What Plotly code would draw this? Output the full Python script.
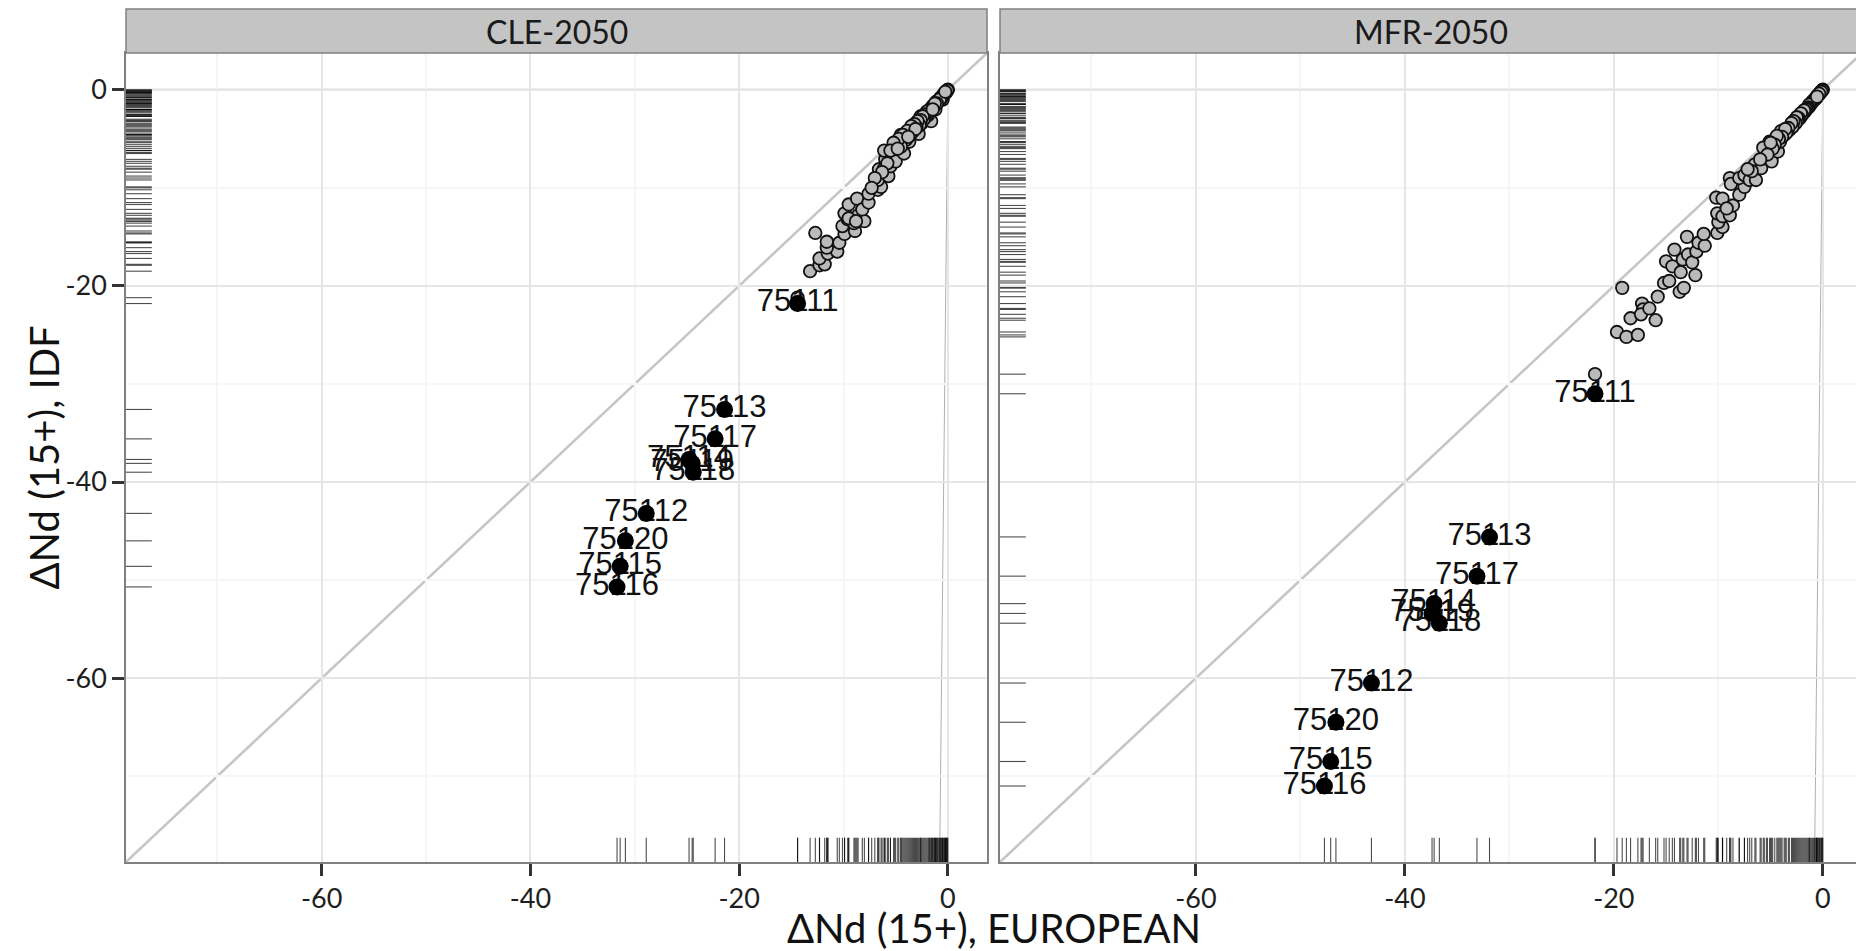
import plotly.graph_objects as go

W, H = 1864, 951
AX_MIN, AX_MAX = -78.75, 3.75

panels = ["CLE-2050", "MFR-2050"]
x_ticks = [-60, -40, -20, 0]
y_ticks = [0, -20, -40, -60]
minor_ticks = [-70, -50, -30, -10]

# ---- CLE-2050 : grey points (EUROPEAN, IDF)
cle_gx = [-13.2, -12.3, -11.8, -12.3, -12.7, -11.5, -11.5, -10.6, -10.4, -9.9, -10.1, -9.6, -9.9, -9.5,
          -8.9, -9.0, -8.6, -8.7, -8.0, -8.2, -7.6, -7.6, -6.7, -6.4, -6.7, -6.6, -6.1, -5.7, -6.0, -5.5,
          -5.1, -5.0, -4.2, -4.4, -3.7, -4.1, -2.8, -3.3, -2.5, -1.8, -1.6, -1.2, -0.5, -0.2, 0.0, -6.1,
          -4.5, -2.6, -14.4, -11.6, -11.6, -9.5, -8.8,
          -0.1, -0.2, -0.3, -0.4, -0.5, -0.6, -0.7, -0.8, -0.9, -1.0, -1.1, -1.2, -1.3, -1.4, -1.5, -1.6,
          -1.7, -1.8, -1.9, -2.0, -2.1, -2.2, -2.3, -2.4, -2.6, -2.7, -2.9, -3.0, -3.2, -3.4, -3.5, -3.6,
          -3.9, -4.0, -4.3, -4.5, -4.7, -5.2, -5.5, -0.15, -0.35, -0.55, -0.75, -1.05, -1.25, -1.45, -0.05,
          -0.25, -3.1, -3.8, -4.8, -5.8, -6.3, -7.0, -7.3]
cle_gy = [-18.5, -17.9, -17.8, -17.2, -14.6, -16.7, -15.6, -16.5, -15.6, -14.7, -13.9, -13.2, -12.6, -11.7,
          -14.4, -13.6, -12.8, -11.1, -13.4, -12.2, -11.5, -10.6, -10.2, -9.9, -9.2, -8.1, -8.0, -8.8, -7.1, -7.8,
          -6.4, -7.3, -6.5, -5.6, -5.3, -4.9, -4.5, -4.1, -3.4, -2.5, -3.2, -2.0, -1.0, -0.3, 0.0, -6.2,
          -4.6, -2.7, -21.2, -16.1, -15.5, -13.1, -13.4,
          -0.1, -0.3, -0.3, -0.5, -0.6, -0.8, -0.8, -1.0, -1.1, -1.3, -1.2, -1.5, -1.6, -1.8, -1.7, -2.1,
          -2.0, -2.3, -2.6, -2.2, -2.7, -2.5, -3.0, -2.7, -3.1, -3.6, -3.2, -3.8, -3.5, -4.3, -3.7, -4.6,
          -4.2, -5.1, -4.6, -5.8, -5.0, -5.4, -6.2, -0.2, -0.4, -0.7, -0.95, -1.4, -1.4, -2.0, -0.05,
          -0.2, -4.0, -4.8, -6.0, -7.5, -8.4, -9.0, -10.0]

# ---- CLE-2050 : Paris arrondissements
cle_lab = ["75111", "75113", "75117", "75114", "75119", "75118", "75112", "75120", "75115", "75116"]
cle_bx = [-14.4, -21.4, -22.3, -24.8, -24.5, -24.4, -28.9, -30.9, -31.4, -31.7]
cle_by = [-21.8, -32.6, -35.6, -37.7, -38.1, -39.0, -43.2, -46.0, -48.6, -50.7]

# ---- MFR-2050 : grey points
mfr_gx = [-21.8, -19.7, -18.8, -17.7, -19.2, -18.4, -17.3, -17.2, -17.4, -16.6, -16.0, -15.8, -15.2, -14.7,
          -13.7, -13.3, -12.2, -15.0, -14.2, -14.4, -13.6, -13.4, -12.9, -13.0, -12.5, -12.1, -11.9, -11.3,
          -11.4, -10.1, -9.6, -10.0, -10.1, -9.6, -8.9, -10.2, -9.6, -8.6, -9.2, -8.9, -8.8, -8.0, -7.5, -8.0,
          -7.5, -7.0, -6.4, -6.5, -5.9, -5.6, -4.9, -5.4, -4.3, -5.1, -4.1, -3.7, -4.0, -3.2, -2.7, -2.2,
          -1.9, -1.3, -0.6, 0.0, -5.7,
          -0.1, -0.2, -0.3, -0.4, -0.5, -0.6, -0.7, -0.8, -0.9, -1.0, -1.1, -1.2, -1.3, -1.4, -1.5, -1.6,
          -1.7, -1.8, -2.0, -2.1, -2.3, -2.4, -2.5, -2.6, -2.8, -2.9, -3.0, -3.3, -3.5, -3.6, -3.9, -4.2,
          -4.4, -4.6, -4.8, -5.0, -5.3, -6.0, -0.05, -0.15, -0.35, -0.55, -6.8, -7.2]
mfr_gy = [-29.0, -24.7, -25.2, -25.0, -20.2, -23.3, -21.8, -22.4, -22.9, -22.3, -23.5, -21.1, -19.7, -19.5,
          -20.6, -20.2, -18.9, -17.5, -16.3, -18.0, -18.6, -17.3, -16.8, -15.0, -17.6, -16.5, -15.6, -15.9,
          -14.7, -14.6, -14.0, -13.5, -12.6, -12.9, -12.8, -11.0, -11.1, -11.8, -12.1, -9.0, -9.6, -10.7, -9.9, -9.0,
          -8.7, -9.2, -9.2, -7.6, -8.0, -7.0, -7.3, -5.8, -6.3, -5.3, -5.3, -4.6, -4.2, -4.1, -3.3, -2.9,
          -2.4, -1.7, -0.8, 0.0, -5.9,
          -0.1, -0.2, -0.4, -0.5, -0.6, -0.7, -0.9, -1.0, -1.1, -1.2, -1.4, -1.5, -1.5, -1.8, -1.9, -2.0,
          -2.2, -2.1, -2.6, -2.4, -2.9, -3.1, -2.8, -3.4, -3.2, -3.8, -3.4, -3.9, -4.4, -4.0, -4.8, -5.0,
          -4.7, -5.6, -6.0, -5.4, -6.6, -7.1, -0.05, -0.2, -0.4, -0.7, -8.3, -8.1]

# ---- MFR-2050 : Paris arrondissements
mfr_lab = ["75111", "75113", "75117", "75114", "75119", "75118", "75112", "75120", "75115", "75116"]
mfr_bx = [-21.8, -31.9, -33.1, -37.2, -37.4, -36.7, -43.2, -46.6, -47.1, -47.7]
mfr_by = [-31.0, -45.6, -49.6, -52.4, -53.4, -54.4, -60.5, -64.5, -68.5, -71.0]

# ---------------- layout geometry (screen pixels -> paper; page body adds an 8px offset)
OFF = 8

def px_x(p):
    return (p - OFF) / W

def px_y(p):
    return 1 - (p - OFF) / H

dom_left = [px_x(126), px_x(987)]
dom_right = [px_x(1000), px_x(1862)]
dom_y = [px_y(862), px_y(53)]
strip_y = [px_y(53), px_y(9)]
RUG = 0.030

fig = go.Figure()

grey_fill = "#bababa"
FONT = "Lato, Open Sans, sans-serif"
TICKFONT = dict(family=FONT, size=27, color="#1e1e1e")
RUGLINE = dict(color="rgba(0,0,0,0.7)", width=1.1)

sets = [
    ("x", "y", "x3", "y3", cle_gx, cle_gy, cle_bx, cle_by, cle_lab),
    ("x2", "y2", "x4", "y4", mfr_gx, mfr_gy, mfr_bx, mfr_by, mfr_lab),
]

for xa, ya, xo, yo, gx, gy, bx, by, lab in sets:
    allx = gx + bx
    ally = gy + by
    # bottom rug (x values)
    rx, ry = [], []
    for v in allx:
        rx += [v, v, None]
        ry += [0, RUG, None]
    fig.add_trace(go.Scatter(x=rx, y=ry, xaxis=xa, yaxis=yo, mode="lines", line=RUGLINE,
                             hoverinfo="skip", showlegend=False))
    # left rug (y values)
    rx, ry = [], []
    for v in ally:
        rx += [0, RUG, None]
        ry += [v, v, None]
    fig.add_trace(go.Scatter(x=rx, y=ry, xaxis=xo, yaxis=ya, mode="lines", line=RUGLINE,
                             hoverinfo="skip", showlegend=False))
    # grey points
    fig.add_trace(go.Scatter(x=gx, y=gy, xaxis=xa, yaxis=ya, mode="markers",
                             marker=dict(size=12.5, color=grey_fill, line=dict(color="#111111", width=1.8)),
                             showlegend=False))
    # labels then black points on top
    fig.add_trace(go.Scatter(x=bx, y=by, xaxis=xa, yaxis=ya, mode="text", text=lab,
                             textposition="middle center",
                             textfont=dict(family="Liberation Sans, Arial, sans-serif", size=31,
                                           color="#111111"),
                             showlegend=False))
    fig.add_trace(go.Scatter(x=bx, y=by, xaxis=xa, yaxis=ya, mode="markers",
                             marker=dict(size=17, color="#000000"), showlegend=False))

shapes = []
annotations = []
for i, (xa, ya) in enumerate([("x", "y"), ("x2", "y2")]):
    # y = 0 reference line
    shapes.append(dict(type="line", xref=xa, yref=ya, x0=AX_MIN, x1=AX_MAX, y0=0, y1=0,
                       line=dict(color="#bdbdbd", width=1.8), layer="below"))
    # diagonal y = x
    shapes.append(dict(type="line", xref=xa, yref=ya, x0=AX_MIN, y0=AX_MIN, x1=AX_MAX, y1=AX_MAX,
                       line=dict(color="#c6c6c6", width=2.6), layer="below"))
    # near-vertical reference line y = 100 x
    shapes.append(dict(type="line", xref=xa, yref=ya, x0=AX_MIN / 100, y0=AX_MIN, x1=AX_MAX / 100,
                       y1=AX_MAX, line=dict(color="#b0b0b0", width=1), layer="below"))
    dom = dom_left if i == 0 else dom_right
    shapes.append(dict(type="rect", xref="paper", yref="paper", x0=dom[0], x1=dom[1],
                       y0=strip_y[0], y1=strip_y[1], fillcolor="#c4c4c4",
                       line=dict(color="#808080", width=1.5), layer="above"))
    annotations.append(dict(text=panels[i], xref="paper", yref="paper", x=(dom[0] + dom[1]) / 2,
                            y=(strip_y[0] + strip_y[1]) / 2, showarrow=False,
                            font=dict(family=FONT, size=32, color="#1a1a1a"),
                            xanchor="center", yanchor="middle"))

annotations.append(dict(text="ΔNd (15+), EUROPEAN", xref="paper", yref="paper",
                        x=(dom_left[0] + dom_right[1]) / 2, y=px_y(928), showarrow=False,
                        font=dict(family=FONT, size=40, color="#111111"),
                        xanchor="center", yanchor="middle"))
annotations.append(dict(text="ΔNd (15+), IDF", xref="paper", yref="paper", x=px_x(44),
                        y=(dom_y[0] + dom_y[1]) / 2, showarrow=False, textangle=-90,
                        font=dict(family=FONT, size=40, color="#111111"),
                        xanchor="center", yanchor="middle"))

def xaxis_cfg(dom, anchor):
    return dict(domain=dom, anchor=anchor, range=[AX_MIN, AX_MAX], tickmode="array", tickvals=x_ticks,
                ticktext=[str(t) for t in x_ticks], ticks="outside", ticklen=12, tickwidth=2.5,
                tickcolor="#333333", tickfont=TICKFONT, showgrid=True, gridcolor="#e6e6e6", gridwidth=1.5,
                minor=dict(tickvals=minor_ticks, showgrid=True, gridcolor="#f6f6f6", gridwidth=1.5, ticks=""),
                showline=True, mirror=True, linecolor="#808080", linewidth=1.5, zeroline=False,
                automargin=False)

def yaxis_cfg(anchor, labels=True):
    d = dict(domain=dom_y, anchor=anchor, range=[AX_MIN, AX_MAX], tickmode="array", tickvals=y_ticks,
             ticktext=[str(t) for t in y_ticks], tickfont=TICKFONT, showgrid=True, gridcolor="#e6e6e6",
             gridwidth=1.5,
             minor=dict(tickvals=minor_ticks, showgrid=True, gridcolor="#f6f6f6", gridwidth=1.5, ticks=""),
             showline=True, mirror=True, linecolor="#808080", linewidth=1.5, zeroline=False,
             automargin=False)
    if labels:
        d.update(ticks="outside", ticklen=12, tickwidth=2.5, tickcolor="#333333")
    else:
        d.update(ticks="", showticklabels=False)
    return d

fig.update_layout(
    width=W, height=H, margin=dict(l=0, r=0, t=0, b=0), paper_bgcolor="white", plot_bgcolor="white",
    showlegend=False,
    xaxis=xaxis_cfg(dom_left, "y"),
    xaxis2=xaxis_cfg(dom_right, "y2"),
    yaxis=yaxis_cfg("x", True),
    yaxis2=yaxis_cfg("x2", False),
    xaxis3=dict(overlaying="x", range=[0, 1], visible=False, anchor="y"),
    yaxis3=dict(overlaying="y", range=[0, 1], visible=False, anchor="x"),
    xaxis4=dict(overlaying="x2", range=[0, 1], visible=False, anchor="y2"),
    yaxis4=dict(overlaying="y2", range=[0, 1], visible=False, anchor="x2"),
    shapes=shapes, annotations=annotations,
)

fig.write_html("out.html")
